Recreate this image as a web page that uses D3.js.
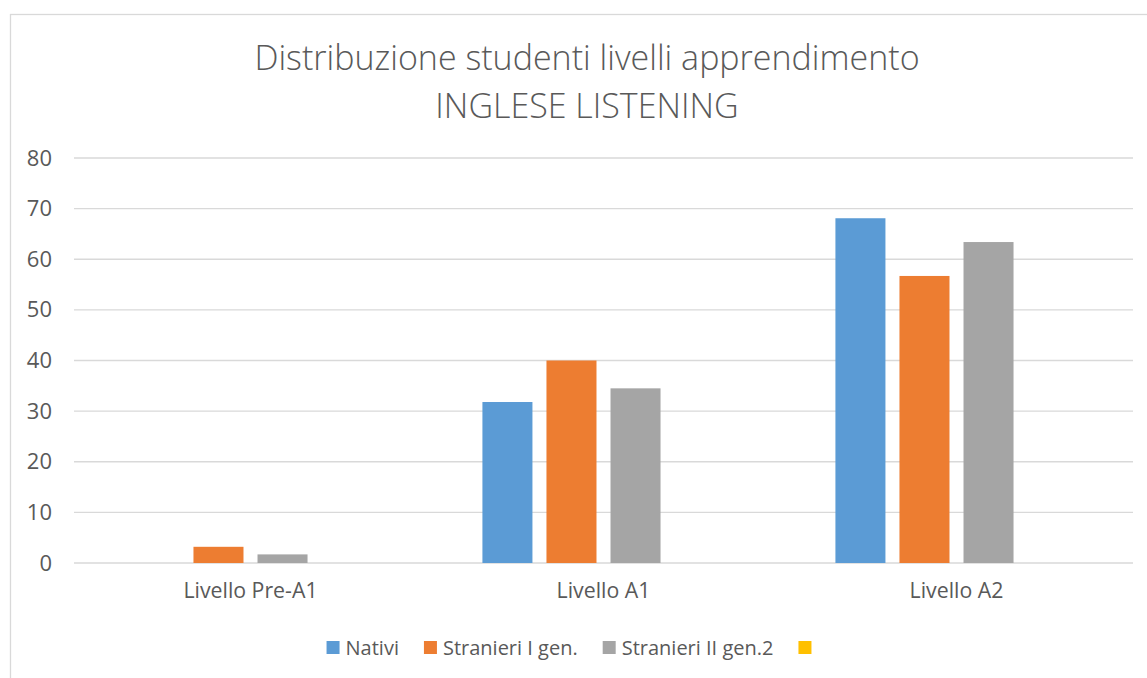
<!DOCTYPE html>
<html lang="it">
<head>
  <meta charset="UTF-8">
  <title>Distribuzione studenti livelli apprendimento</title>
  <script src="https://d3js.org/d3.v7.min.js"></script>
  <style>
    body { margin: 0; background: #fff; }
    svg { display: block; font-family: "Open Sans", "Noto Sans", sans-serif; }
  </style>
</head>
<body>
<div id="chart"></div>
<script>

// data
const categories = ["Livello Pre-A1", "Livello A1", "Livello A2"];
const seriesNames = ["Nativi", "Stranieri I gen.", "Stranieri II gen.2", ""];
const nativi = [0, 31.8, 68.1];
const stranieriI = [3.2, 40.0, 56.7];
const stranieriII = [1.7, 34.5, 63.4];
const serie4 = [null, null, null];
const yTicks = [0, 10, 20, 30, 40, 50, 60, 70, 80];
const colors = ["#5B9BD5", "#ED7D31", "#A5A5A5", "#FFC000"];

const allSeries = [nativi, stranieriI, stranieriII, serie4];

const width = 1147;
const height = 678;
const margin = { left: 74, right: 14, top: 158, bottom: 115 };

const svg = d3.select("#chart")
  .append("svg")
  .attr("width", width)
  .attr("height", height);

// chart border
svg.append("rect")
  .attr("x", 10.5)
  .attr("y", 14.5)
  .attr("width", width + 20)
  .attr("height", height + 20)
  .attr("fill", "#fff")
  .attr("stroke", "#D9D9D9")
  .attr("stroke-width", 1.3);

// title
const title = svg.append("text")
  .attr("text-anchor", "middle")
  .attr("fill", "#595959")
  .style("font-size", "34px")
  .style("font-weight", 300);
title.append("tspan").attr("x", 587).attr("y", 70).text("Distribuzione studenti livelli apprendimento");
title.append("tspan").attr("x", 587).attr("y", 118).text("INGLESE LISTENING");

// scales
const x0 = d3.scaleBand()
  .domain(categories)
  .range([margin.left, width - margin.right])
  .paddingInner(0.314)
  .paddingOuter(0.157);

const x1 = d3.scaleBand()
  .domain(d3.range(seriesNames.length))
  .range([0, x0.bandwidth()])
  .paddingInner(0.219)
  .paddingOuter(0);

const y = d3.scaleLinear()
  .domain([0, 80])
  .range([height - margin.bottom, margin.top]);

// gridlines
svg.append("g")
  .selectAll("line")
  .data(yTicks)
  .join("line")
  .attr("x1", margin.left)
  .attr("x2", width - margin.right)
  .attr("y1", d => y(d))
  .attr("y2", d => y(d))
  .attr("stroke", "#D9D9D9")
  .attr("stroke-width", 1.3);

// y axis labels
const yAxis = svg.append("g")
  .attr("transform", `translate(${margin.left - 22},0)`)
  .call(d3.axisLeft(y).tickValues(yTicks).tickSize(0).tickPadding(0));
yAxis.select(".domain").remove();
yAxis.selectAll("text")
  .attr("fill", "#595959")
  .style("font-size", "22px")
  .style("font-family", "'Open Sans', 'Noto Sans', sans-serif");

// bars
const groups = svg.append("g")
  .selectAll("g")
  .data(categories)
  .join("g")
  .attr("transform", d => `translate(${x0(d)},0)`);

groups.selectAll("rect")
  .data((d, i) => allSeries.map((s, k) => ({ k, v: s[i] })).filter(e => e.v != null && e.v > 0))
  .join("rect")
  .attr("x", d => x1(d.k))
  .attr("width", x1.bandwidth())
  .attr("y", d => y(d.v))
  .attr("height", d => y(0) - y(d.v))
  .attr("fill", d => colors[d.k]);

// x axis labels
const xAxis = svg.append("g")
  .attr("transform", `translate(0,${y(0) + 14})`)
  .call(d3.axisBottom(x0).tickSize(0).tickPadding(0));
xAxis.select(".domain").remove();
xAxis.selectAll("text")
  .attr("fill", "#595959")
  .attr("dy", "1em")
  .style("font-size", "21.3px")
  .style("font-family", "'Open Sans', 'Noto Sans', sans-serif");

// legend
const legend = svg.append("g");
const items = legend.selectAll("g")
  .data(seriesNames)
  .join("g");
items.append("rect")
  .attr("width", 13)
  .attr("height", 13)
  .attr("y", 641)
  .attr("fill", (d, i) => colors[i]);
items.append("text")
  .attr("x", 19)
  .attr("y", 655)
  .attr("fill", "#595959")
  .style("font-size", "20px")
  .text(d => d);

let cursor = 0;
items.each(function() {
  const g = d3.select(this);
  g.attr("transform", `translate(${cursor},0)`);
  const w = g.select("text").node().getComputedTextLength();
  cursor += 19 + w + 25;
});
const totalW = cursor - 25 - 6;
legend.attr("transform", `translate(${569 - totalW / 2},0)`);

</script>
</body>
</html>
